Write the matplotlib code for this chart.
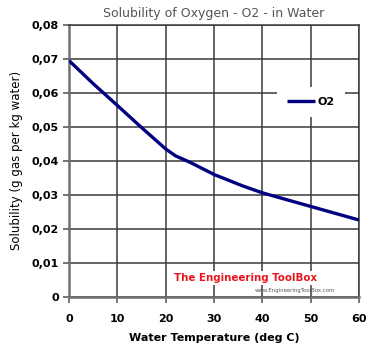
import matplotlib
matplotlib.use("Agg")
import matplotlib.pyplot as plt
from matplotlib.ticker import FuncFormatter

# values
temp_c = [0, 5, 10, 15, 20, 22, 25, 30, 36, 40, 50, 60]
o2_solubility = [0.0695, 0.0627, 0.0563, 0.0498, 0.0435, 0.0415, 0.0396,
                 0.0360, 0.0326, 0.0306, 0.0266, 0.0226]
x_ticks = [0, 10, 20, 30, 40, 50, 60]
y_ticks = [0, 0.01, 0.02, 0.03, 0.04, 0.05, 0.06, 0.07, 0.08]

fig = plt.figure(figsize=(3.84, 3.62), dpi=100)
ax = fig.add_axes([0.18, 0.18, 0.755, 0.751])

ax.plot(temp_c, o2_solubility, color="#000080", lw=2.4, label="O2",
        solid_capstyle="butt", zorder=4)

ax.set_xlim(0, 60)
ax.set_ylim(0, 0.08)
ax.set_xticks(x_ticks)
ax.set_yticks(y_ticks)

def comma_fmt(v, pos):
    if abs(v) < 1e-9:
        return "0"
    return f"{v:.2f}".replace(".", ",")

ax.yaxis.set_major_formatter(FuncFormatter(comma_fmt))
ax.grid(True, color="#3a3a3a", lw=1.1)
ax.set_axisbelow(True)
for s in ax.spines.values():
    s.set_color("#3a3a3a")
    s.set_linewidth(1.1)
ax.spines["left"].set_color("#707070")
ax.spines["left"].set_linewidth(1.8)
ax.spines["bottom"].set_color("#707070")
ax.spines["bottom"].set_linewidth(1.8)

ax.tick_params(axis="both", direction="out", length=4, width=1.1,
               colors="#505050", labelcolor="black", labelsize=8)
ax.tick_params(axis="x", pad=8)
for lab in ax.get_xticklabels() + ax.get_yticklabels():
    lab.set_fontweight("bold")

ax.set_title("Solubility of Oxygen - O2 - in Water", fontsize=9,
             color="#555555", pad=6)
ax.set_xlabel("Water Temperature (deg C)", fontsize=8, fontweight="bold",
              labelpad=7)
ax.set_ylabel("Solubility (g gas per kg water)", fontsize=8.5, labelpad=6)

leg = ax.legend(loc="upper right", bbox_to_anchor=(0.95, 0.772),
                frameon=True, fontsize=8, handlelength=2.5,
                borderpad=0.9, handletextpad=0.2, borderaxespad=0)
leg.get_frame().set_edgecolor("none")
leg.get_frame().set_facecolor("white")
leg.get_frame().set_alpha(1)
leg.get_frame().set_boxstyle("square", pad=0)
for t in leg.get_texts():
    t.set_fontweight("bold")

# watermark
ax.text(0.61, 0.07, "The Engineering ToolBox", transform=ax.transAxes,
        ha="center", va="center", color="#e8141c", fontsize=8.2,
        fontweight="bold", fontstretch="condensed", zorder=5,
        bbox=dict(facecolor="white", edgecolor="none", pad=1.5))
ax.text(0.78, 0.022, "www.EngineeringToolBox.com", transform=ax.transAxes,
        ha="center", va="center", color="#555555", fontsize=3.9, zorder=5)

fig.savefig("out.png", dpi=100)
